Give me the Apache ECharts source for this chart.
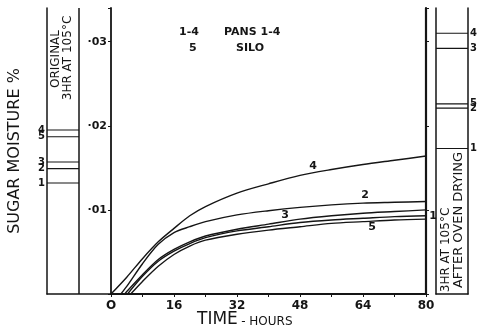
<!DOCTYPE html>
<html>
<head>
<meta charset="utf-8">
<script src="https://cdn.jsdelivr.net/npm/echarts@6/dist/echarts.min.js"></script>
<style>
  html, body { margin: 0; padding: 0; background: #fff; }
  #chart { width: 483px; height: 331px; }
</style>
</head>
<body>
<div id="chart"></div>
<script>
  // time in hours, moisture as %
  let hours = [4, 8, 12, 16, 20, 24, 32, 40, 48, 56, 64, 72, 80];
  let curveNames = ['4', '2', '3', '1', '5'];
  let startHours = [0, 2.5, 3.5, 4.2, 5];
  let curve4 = [0.0020, 0.0042, 0.0062, 0.0078, 0.0093, 0.0104, 0.0120, 0.0131, 0.0141, 0.0148, 0.0154, 0.0159, 0.0164];
  let curve2 = [0.0009, 0.0036, 0.0059, 0.0073, 0.0080, 0.0086, 0.0094, 0.0099, 0.0103, 0.0106, 0.0108, 0.0109, 0.0110];
  let curve3 = [0.0003, 0.0023, 0.0041, 0.0053, 0.0062, 0.0069, 0.0077, 0.0083, 0.0089, 0.0093, 0.0096, 0.0098, 0.0100];
  let curve1 = [null, 0.0021, 0.0039, 0.0051, 0.0060, 0.0067, 0.0075, 0.0080, 0.0085, 0.0088, 0.0090, 0.0092, 0.0093];
  let curve5 = [null, 0.0015, 0.0033, 0.0047, 0.0057, 0.0064, 0.0071, 0.0076, 0.0080, 0.0084, 0.0086, 0.0088, 0.0089];

  // original moisture (3hr at 105C) and after oven drying
  let originalNames = ['4', '5', '3', '2', '1'];
  let originalValues = [0.0195, 0.0187, 0.0157, 0.0149, 0.0132];
  let ovenNames = ['4', '3', '5', '2', '1'];
  let ovenValues = [0.0310, 0.0292, 0.0226, 0.0221, 0.0173];

  let xLabelTicks = [0, 16, 32, 48, 64, 80];
  let yTicks = [0.01, 0.02, 0.03];
  let yTickLabels = ['·01', '·02', '·03'];

  let ink = '#151515';
  let font = 'DejaVu Sans';
  let yMax = 0.034;

  let curves = [curve4, curve2, curve3, curve1, curve5];
  // where each curve number is written
  let labelAt = [[51.3, 0.0152], [64.5, 0.0117], [44.2, 0.0094], [80, 0.0093], [66.3, 0.0080]];
  let labelOffset = [[0, 0], [0, 0], [0, 0], [7, 0], [0, 0]];

  let series = [];

  curves.forEach(function (vals, i) {
    let data = [[startHours[i], 0]];
    hours.forEach(function (h, j) {
      if (vals[j] != null) data.push([h, vals[j]]);
    });
    series.push({
      type: 'line',
      xAxisIndex: 1,
      yAxisIndex: 1,
      data: data,
      smooth: 0.3,
      symbol: 'none',
      silent: true,
      lineStyle: { color: ink, width: 1.4 },
      markPoint: {
        symbol: 'rect',
        symbolSize: 1,
        itemStyle: { color: 'rgba(0,0,0,0)' },
        label: {
          show: true,
          formatter: '{b}',
          color: ink,
          fontFamily: font,
          fontWeight: 'bold',
          fontSize: 11,
          offset: labelOffset[i]
        },
        data: [{ name: curveNames[i], coord: labelAt[i] }]
      }
    });
  });

  // left box: original readings
  originalValues.forEach(function (v, i) {
    series.push({
      type: 'line',
      xAxisIndex: 0,
      yAxisIndex: 0,
      symbol: 'none',
      silent: true,
      lineStyle: { color: ink, width: 1.1 },
      data: [
        { value: [0, v], symbol: 'rect', symbolSize: 0.1, label: { show: true, position: 'left', distance: 2, formatter: originalNames[i] } },
        [0.5, v]
      ],
      label: { color: ink, fontFamily: font, fontWeight: 'bold', fontSize: 10 }
    });
  });
  series.push({
    type: 'line', xAxisIndex: 0, yAxisIndex: 0, symbol: 'none', silent: true,
    lineStyle: { color: ink, width: 1.5 },
    data: [[0.5, 0], [0.5, yMax]]
  });

  // right box: after oven drying
  ovenValues.forEach(function (v, i) {
    series.push({
      type: 'line',
      xAxisIndex: 2,
      yAxisIndex: 3,
      symbol: 'none',
      silent: true,
      lineStyle: { color: ink, width: 1.1 },
      data: [
        [0, v],
        { value: [1, v], symbol: 'rect', symbolSize: 0.1, label: { show: true, position: 'right', distance: 2, formatter: ovenNames[i] } }
      ],
      label: { color: ink, fontFamily: font, fontWeight: 'bold', fontSize: 10 }
    });
  });

  let plainAxis = {
    axisLine: { show: true, lineStyle: { color: ink, width: 1.5 } },
    axisTick: { show: false },
    axisLabel: { show: false },
    splitLine: { show: false }
  };

  let option = {
    animation: false,
    backgroundColor: '#fff',
    grid: [
      { left: 47, top: 8, width: 64, bottom: 37 },
      { left: 111, top: 8, right: 57, bottom: 37 },
      { left: 436, top: 8, width: 32, bottom: 37 }
    ],
    xAxis: [
      Object.assign({ type: 'value', gridIndex: 0, min: 0, max: 1 }, plainAxis),
      {
        type: 'value', gridIndex: 1, min: 0, max: 80, interval: 8,
        axisLine: { show: true, onZero: false, lineStyle: { color: ink, width: 1.8 } },
        axisTick: { show: true, length: 3, lineStyle: { color: ink, width: 1 } },
        splitLine: { show: false },
        axisLabel: {
          color: ink, fontFamily: font, fontWeight: 'bold', fontSize: 12, margin: 6,
          formatter: function (v) {
            if (xLabelTicks.indexOf(v) < 0) return '';
            return v === 0 ? 'O' : String(v);
          }
        }
      },
      Object.assign({ type: 'value', gridIndex: 2, min: 0, max: 1 }, plainAxis)
    ],
    yAxis: [
      Object.assign({
        type: 'value', gridIndex: 0, min: 0, max: yMax,
        name: 'SUGAR MOISTURE %', nameLocation: 'middle', nameRotate: 90, nameGap: 24,
        nameTextStyle: { color: ink, fontFamily: font, fontSize: 16 }
      }, plainAxis),
      {
        type: 'value', gridIndex: 1, min: 0, max: yMax, interval: 0.01,
        axisLine: { show: true, lineStyle: { color: ink, width: 1.8 } },
        axisTick: { show: true, length: 3, lineStyle: { color: ink, width: 1 } },
        splitLine: { show: false },
        axisLabel: {
          color: ink, fontFamily: font, fontWeight: 'bold', fontSize: 11, margin: 4,
          formatter: function (v) {
            for (let i = 0; i < yTicks.length; i++) {
              if (Math.abs(yTicks[i] - v) < 1e-9) return yTickLabels[i];
            }
            return '';
          }
        }
      },
      {
        type: 'value', gridIndex: 1, min: 0, max: yMax, interval: 0.01, position: 'right',
        axisLine: { show: true, lineStyle: { color: ink, width: 2.2 } },
        axisTick: { show: true, length: 3, lineStyle: { color: ink, width: 1 } },
        axisLabel: { show: false },
        splitLine: { show: false }
      },
      Object.assign({ type: 'value', gridIndex: 2, min: 0, max: yMax }, plainAxis),
      Object.assign({ type: 'value', gridIndex: 2, min: 0, max: yMax, position: 'right' }, plainAxis)
    ],
    graphic: [
      { type: 'text', left: 179, top: 27, style: { text: '1-4', fill: ink, font: 'bold 11px "DejaVu Sans"' } },
      { type: 'text', left: 224, top: 27, style: { text: 'PANS 1-4', fill: ink, font: 'bold 11px "DejaVu Sans"' } },
      { type: 'text', left: 189, top: 43, style: { text: '5', fill: ink, font: 'bold 11px "DejaVu Sans"' } },
      { type: 'text', left: 236, top: 43, style: { text: 'SILO', fill: ink, font: 'bold 11px "DejaVu Sans"' } },
      {
        type: 'text', x: 56, y: 59, rotation: Math.PI / 2,
        style: { text: 'ORIGINAL', fill: ink, font: '12px "DejaVu Sans"', align: 'center', verticalAlign: 'middle' }
      },
      {
        type: 'text', x: 68, y: 58, rotation: Math.PI / 2,
        style: { text: '3HR AT 105°C', fill: ink, font: '12px "DejaVu Sans"', align: 'center', verticalAlign: 'middle' }
      },
      {
        type: 'text', x: 446, y: 250, rotation: Math.PI / 2,
        style: { text: '3HR AT 105°C', fill: ink, font: '12px "DejaVu Sans"', align: 'center', verticalAlign: 'middle' }
      },
      {
        type: 'text', x: 459, y: 220, rotation: Math.PI / 2,
        style: { text: 'AFTER OVEN DRYING', fill: ink, font: '13px "DejaVu Sans"', align: 'center', verticalAlign: 'middle' }
      },
      {
        type: 'text', left: 197, top: 311,
        style: {
          text: '{a|TIME} {b|- HOURS}',
          rich: {
            a: { fill: ink, fontFamily: font, fontSize: 17, verticalAlign: 'bottom' },
            b: { fill: ink, fontFamily: font, fontSize: 12, verticalAlign: 'bottom' }
          }
        }
      }
    ],
    series: series
  };

  let myChart = echarts.init(document.getElementById('chart'));
  myChart.setOption(option);
</script>
</body>
</html>
